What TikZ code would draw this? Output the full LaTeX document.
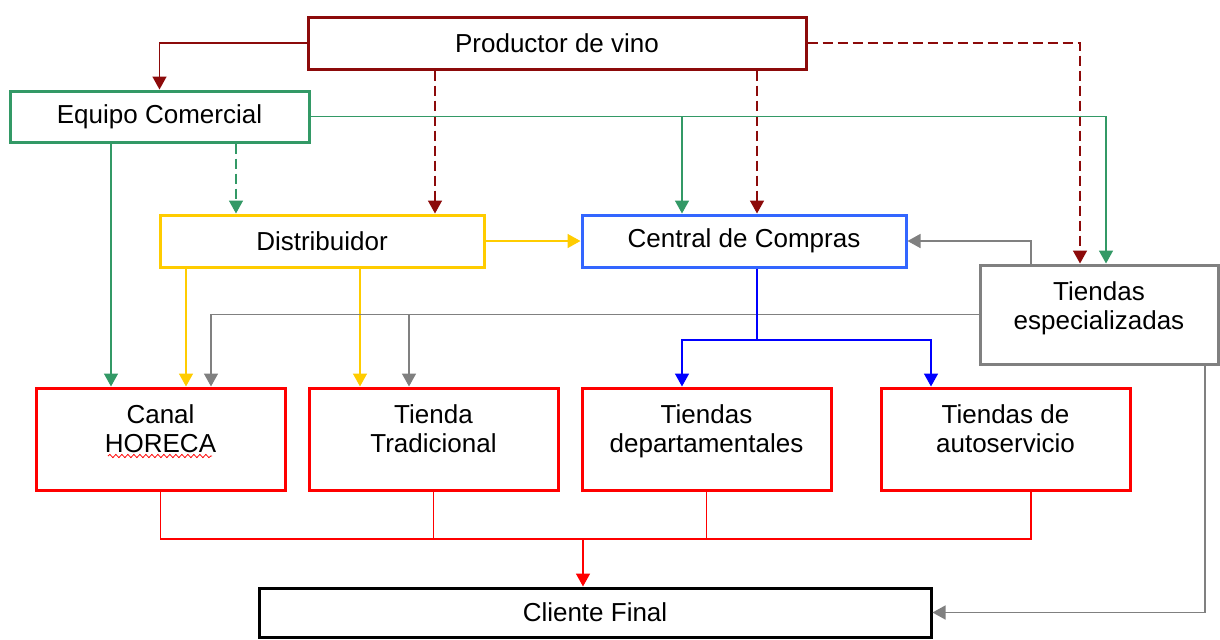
\documentclass[tikz,border=0pt]{standalone}
\usepackage{fontspec}
\setmainfont{Liberation Sans}
\usepackage{tikz}
\usetikzlibrary{arrows.meta,positioning,decorations.pathmorphing}
\usepackage{xcolor}

\definecolor{vino}{RGB}{140,10,10}
\definecolor{verde}{RGB}{51,153,102}
\definecolor{amarillo}{RGB}{255,204,0}
\definecolor{azul}{RGB}{51,102,255}
\definecolor{azulo}{RGB}{0,0,255}
\definecolor{gris}{RGB}{128,128,128}
\definecolor{rojo}{RGB}{255,0,0}

\tikzset{
  box/.style={draw, line width=1.5pt, inner sep=0pt, fill=white},
  txt/.style={inner sep=0pt, align=center},
  con/.style={line width=0.8pt},
  tip/.style={-{Triangle[length=6.5pt,width=7pt]}},
  dsh/.style={dash pattern=on 5pt off 2.5pt}
}

\begin{document}
\begin{tikzpicture}[x=0.5pt, y=-0.5pt, every node/.style={font=\fontsize{13}{14.5}\selectfont}]
     \useasboundingbox (0,0) rectangle (1220,639);
     % cajas
     \node [box, draw=vino, minimum width=249pt, minimum height=26pt] (prod) at (557,43) {Productor de vino};
     \node [box, draw=verde, minimum width=149.5pt, minimum height=25.5pt] (equipo) at (159.5,116.5) {Equipo Comercial};
     \node [box, draw=amarillo, minimum width=162pt, minimum height=26pt] (distrib) at (322,241) {Distribuidor};
     \node [box, draw=azul, minimum width=162pt, minimum height=26pt] (central) at (744,241) {Central de Compras};
     \node [box, draw=gris, minimum width=119pt, minimum height=49.5pt] (tesp) at (1099,314.5) {};
     \node [txt, below=9pt of tesp.north] (tesptxt) {Tiendas\\especializadas};
     \node [box, draw=rojo, minimum width=124.5pt, minimum height=51pt] (canal) at (160.5,439) {};
     \node [txt, below=9pt of canal.north] (canaltxt) {Canal\\HORECA};
     \node [box, draw=rojo, minimum width=124.5pt, minimum height=51pt] (ttrad) at (433.5,439) {};
     \node [txt, below=9pt of ttrad.north] (ttradtxt) {Tienda\\Tradicional};
     \node [box, draw=rojo, minimum width=124.5pt, minimum height=51pt] (tdep) at (706.5,439) {};
     \node [txt, below=9pt of tdep.north] (tdeptxt) {Tiendas\\departamentales};
     \node [box, draw=rojo, minimum width=124.5pt, minimum height=51pt] (tauto) at (1005.5,439) {};
     \node [txt, below=9pt of tauto.north] (tautotxt) {Tiendas de\\autoservicio};
     \node [box, draw=black, minimum width=336pt, minimum height=24.5pt] (cliente) at (595,612.5) {Cliente Final};
     % subrayado
     \draw [rojo, line width=0.4pt, decorate, decoration={snake, amplitude=0.8pt, segment length=3pt}] (108,456) -- (212,456);
     % columnas de las lineas
     \coordinate (pd) at (435,0);
     \coordinate (pc) at (757,0);
     \coordinate (pt) at (1080,0);
     \coordinate (ec) at (682,0);
     \coordinate (et) at (1106,0);
     \coordinate (eh) at (111,0);
     \coordinate (ed) at (236,0);
     \coordinate (dh) at (186,0);
     \coordinate (dt) at (360,0);
     \coordinate (tc) at (1031,0);
     \coordinate (th) at (211,0);
     \coordinate (tt) at (409,0);
     \coordinate (ba) at (931,0);
     \coordinate (rc) at (583,0);
     \coordinate (tf) at (1205,0);
     \coordinate (bj) at (0,340);
     \coordinate (rj) at (0,539);
     % productor
     \draw [con, vino, tip] (prod.west) -| (equipo.north);
     \draw [con, vino, dsh, tip] (prod.south -| pd) -- (distrib.north -| pd);
     \draw [con, vino, dsh, tip] (prod.south -| pc) -- (central.north -| pc);
     \draw [con, vino, dsh, tip] (prod.east) -| (tesp.north -| pt);
     % equipo comercial
     \draw [con, verde, tip] (equipo.east) -| (tesp.north -| et);
     \draw [con, verde, tip] (equipo.east -| ec) -- (central.north -| ec);
     \draw [con, verde, tip] (equipo.south -| eh) -- (canal.north -| eh);
     \draw [con, verde, dsh, tip] (equipo.south -| ed) -- (distrib.north -| ed);
     % distribuidor
     \draw [con, amarillo, tip] (distrib.east) -- (central.west);
     \draw [con, amarillo, tip] (distrib.south -| dh) -- (canal.north -| dh);
     \draw [con, amarillo, tip] (distrib.south -| dt) -- (ttrad.north -| dt);
     % tiendas especializadas
     \draw [con, gris, tip] (tesp.north -| tc) |- (central.east);
     \draw [con, gris, tip] (tesp.west) -| (canal.north -| th);
     \draw [con, gris, tip] (tesp.west -| tt) -- (ttrad.north -| tt);
     \draw [con, gris, tip] (tesp.south -| tf) |- (cliente.east);
     % central de compras
     \draw [con, azulo] (central.south -| pc) -- (pc |- bj);
     \draw [con, azulo, tip] (pc |- bj) -| (tdep.north -| ec);
     \draw [con, azulo, tip] (pc |- bj) -| (tauto.north -| ba);
     % cliente final
     \draw [con, rojo] (canal.south) -- (canal.south |- rj) -| (tauto.south -| tc);
     \draw [con, rojo] (ttrad.south) -- (ttrad.south |- rj);
     \draw [con, rojo] (tdep.south) -- (tdep.south |- rj);
     \draw [con, rojo, tip] (rc |- rj) -- (cliente.north -| rc);
\end{tikzpicture}
\end{document}
